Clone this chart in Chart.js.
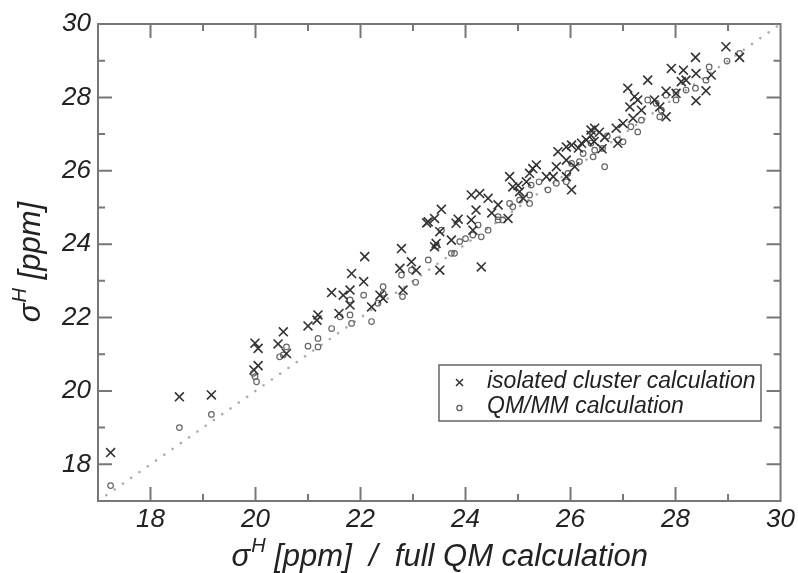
<!DOCTYPE html>
<html>
<head>
<meta charset="utf-8">
<script src="https://cdn.jsdelivr.net/npm/chart.js@4.4.1/dist/chart.umd.min.js"></script>
<style>
    body { margin: 0; background: #fff; }
    canvas { display: block; }
</style>
</head>
<body>
<canvas id="chartShielding" width="798" height="573"></canvas>
<script>
// Data (ppm)
const clusterX = [17.24, 18.55, 19.16, 19.99, 20.05, 20.05, 19.97, 20.43, 20.53, 20.59, 21.00, 21.19, 21.17, 21.45, 21.59, 21.67, 21.80, 21.83, 21.80, 22.08,
    22.06, 22.21, 22.37, 22.43, 22.78, 22.75, 22.97, 23.06, 22.81, 23.26, 23.51, 24.30, 23.41, 23.44, 23.73, 23.51, 23.29, 23.41, 23.54, 23.82,
    23.86, 24.11, 24.14, 24.20, 24.11, 24.27, 24.43, 24.62, 24.81, 24.84, 24.90, 25.03, 25.16, 25.28, 25.35, 25.22, 25.54, 25.73, 25.67, 25.92,
    26.02, 25.76, 25.92, 26.02, 26.21, 26.39, 26.30, 26.08, 25.92, 28.96, 29.22, 28.38, 27.92, 28.15, 28.39, 28.68, 27.47, 28.11, 28.20, 27.09,
    27.82, 28.01, 28.58, 28.39, 27.22, 27.28, 27.60, 27.13, 27.35, 27.70, 27.82, 27.19, 27.00, 26.87, 26.46, 26.65, 26.90, 26.39, 26.15, 26.45,
    26.55, 26.60, 25.00, 25.10, 24.50];
const clusterY = [18.32, 19.84, 19.89, 21.30, 21.16, 20.69, 20.57, 21.28, 21.61, 21.02, 21.77, 22.07, 21.93, 22.68, 22.11, 22.61, 22.75, 23.20, 22.34, 23.66,
    22.98, 22.29, 22.61, 22.52, 23.88, 23.34, 23.52, 23.29, 22.75, 24.58, 23.29, 23.38, 23.93, 24.02, 24.11, 24.34, 24.61, 24.70, 24.95, 24.57,
    24.68, 24.66, 24.38, 24.93, 25.34, 25.38, 25.25, 25.07, 24.70, 25.84, 25.56, 25.43, 25.70, 26.06, 26.16, 25.93, 25.84, 26.11, 25.84, 25.84,
    25.48, 26.52, 26.65, 26.70, 26.75, 27.11, 26.84, 26.11, 26.29, 29.38, 29.09, 29.09, 28.79, 28.74, 28.65, 28.61, 28.47, 28.43, 28.47, 28.25,
    28.17, 28.11, 28.18, 27.91, 28.02, 27.93, 27.93, 27.74, 27.65, 27.74, 27.47, 27.43, 27.29, 27.16, 27.16, 26.91, 26.75, 26.97, 26.62, 26.80,
    27.05, 26.60, 25.60, 25.25, 24.85];

const qmmmX = [17.24, 18.55, 19.16, 19.99, 20.02, 19.96, 20.46, 20.59, 20.53, 21.00, 21.19, 21.19, 21.45, 21.61, 21.80, 21.83, 21.80, 22.06, 22.21, 22.43,
    22.43, 22.33, 22.80, 22.78, 22.97, 23.05, 23.29, 23.73, 23.79, 23.89, 24.14, 24.30, 24.43, 24.24, 23.54, 24.62, 24.62, 24.71, 24.84, 24.90,
    25.03, 25.22, 25.22, 25.25, 25.57, 25.73, 25.92, 25.95, 26.24, 26.43, 26.46, 26.39, 26.17, 26.02, 28.98, 29.22, 28.64, 28.58, 28.38, 28.20,
    28.01, 27.47, 27.63, 27.73, 27.70, 27.35, 27.28, 27.15, 27.00, 26.90, 26.61, 26.65, 27.82, 28.01, 23.45, 24.00, 25.40, 26.70];
const qmmmY = [17.42, 19.00, 19.36, 20.39, 20.25, 20.48, 20.93, 21.20, 20.98, 21.22, 21.20, 21.43, 21.70, 22.02, 22.07, 21.84, 22.48, 22.61, 21.89, 22.84,
    22.66, 22.39, 22.57, 23.16, 23.29, 22.96, 23.57, 23.75, 23.75, 24.07, 24.25, 24.20, 24.38, 24.52, 24.38, 24.75, 24.66, 24.66, 25.11, 25.02,
    25.20, 25.11, 25.34, 25.61, 25.48, 25.66, 25.70, 25.93, 26.47, 26.38, 26.56, 26.75, 26.25, 26.20, 28.99, 29.20, 28.83, 28.47, 28.25, 28.20,
    27.93, 27.93, 27.84, 27.65, 27.47, 27.38, 27.06, 27.20, 26.79, 26.84, 26.61, 26.11, 28.06, 28.15, 23.95, 24.15, 25.70, 26.95];

const axisMin = 17;
const axisMax = 30;
const tickLabels = [18, 20, 22, 24, 26, 28, 30];

const seriesNames = ['isolated cluster calculation', 'QM/MM calculation'];

const FONT = 'Liberation Sans, Arial, sans-serif';
const AXIS_COLOR = '#777';

function toPoints(xs, ys) {
    return xs.map((x, i) => ({ x: x, y: ys[i] }));
}

// Frame, inward ticks on all sides, axis titles and inset legend
const framePlugin = {
    id: 'frame',
    afterDraw(chart) {
        const { ctx, chartArea: a, scales: { x, y } } = chart;
        ctx.save();
        ctx.strokeStyle = AXIS_COLOR;
        ctx.lineWidth = 2;
        ctx.strokeRect(a.left, a.top, a.right - a.left, a.bottom - a.top);

        ctx.beginPath();
        for (let v = axisMin + 1; v < axisMax; v++) {
            const len = v % 2 === 0 ? 14 : 7;
            const px = x.getPixelForValue(v);
            ctx.moveTo(px, a.bottom); ctx.lineTo(px, a.bottom - len);
            ctx.moveTo(px, a.top); ctx.lineTo(px, a.top + len);
            const py = y.getPixelForValue(v);
            ctx.moveTo(a.left, py); ctx.lineTo(a.left + len, py);
            ctx.moveTo(a.right, py); ctx.lineTo(a.right - len, py);
        }
        ctx.stroke();

        // axis titles with superscript H
        ctx.fillStyle = '#222';
        ctx.textBaseline = 'alphabetic';
        const drawSigma = (rest, cx, cy) => {
            const big = 'italic 31px ' + FONT;
            const small = 'italic 20px ' + FONT;
            ctx.font = big;
            const w1 = ctx.measureText('σ').width;
            const w3 = ctx.measureText(rest).width;
            ctx.font = small;
            const w2 = ctx.measureText('H').width;
            let sx = cx - (w1 + w2 + w3) / 2;
            ctx.font = big;
            ctx.fillText('σ', sx, cy);
            ctx.font = small;
            ctx.fillText('H', sx + w1 + 1, cy - 14);
            ctx.font = big;
            ctx.fillText(rest, sx + w1 + w2 + 1, cy);
        };
        drawSigma(' [ppm]  /  full QM calculation', (a.left + a.right) / 2, 566);

        ctx.save();
        ctx.translate(40, (a.top + a.bottom) / 2);
        ctx.rotate(-Math.PI / 2);
        drawSigma(' [ppm]', 0, 0);
        ctx.restore();

        // legend
        const lx = 439, ly = 365, lw = 322, lh = 56;
        ctx.strokeStyle = '#666';
        ctx.lineWidth = 1.5;
        ctx.fillStyle = '#fff';
        ctx.fillRect(lx, ly, lw, lh);
        ctx.strokeRect(lx, ly, lw, lh);

        ctx.strokeStyle = '#333';
        ctx.lineWidth = 1.5;
        ctx.beginPath();
        ctx.moveTo(456, 379); ctx.lineTo(463, 386);
        ctx.moveTo(463, 379); ctx.lineTo(456, 386);
        ctx.stroke();
        ctx.strokeStyle = '#555';
        ctx.lineWidth = 1.2;
        ctx.beginPath();
        ctx.arc(459.5, 408, 2.6, 0, Math.PI * 2);
        ctx.stroke();

        ctx.fillStyle = '#222';
        ctx.font = 'italic 23px ' + FONT;
        ctx.textBaseline = 'middle';
        ctx.fillText(seriesNames[0], 487, 382);
        ctx.fillText(seriesNames[1], 487, 407);
        ctx.restore();
    }
};

const tickFont = { family: FONT, style: 'italic', size: 26 };

new Chart(document.getElementById('chartShielding'), {
    type: 'scatter',
    data: {
        datasets: [
            {
                type: 'line',
                label: 'y = x',
                data: [{ x: axisMin, y: axisMin }, { x: axisMax, y: axisMax }],
                borderColor: '#aaa',
                borderWidth: 2.5,
                borderDash: [0.1, 10],
                borderCapStyle: 'round',
                pointRadius: 0,
                order: 3
            },
            {
                label: seriesNames[1],
                data: toPoints(qmmmX, qmmmY),
                pointStyle: 'circle',
                pointRadius: 2.8,
                borderColor: '#666',
                backgroundColor: 'rgba(0,0,0,0)',
                borderWidth: 1.2,
                order: 2
            },
            {
                label: seriesNames[0],
                data: toPoints(clusterX, clusterY),
                pointStyle: 'crossRot',
                pointRadius: 6.3,
                borderColor: '#333',
                borderWidth: 1.6,
                order: 1
            }
        ]
    },
    options: {
        responsive: false,
        animation: false,
        layout: { padding: { left: 0, top: 24, right: 17, bottom: 0 } },
        plugins: {
            legend: { display: false },
            tooltip: { enabled: false }
        },
        scales: {
            x: {
                type: 'linear',
                min: axisMin,
                max: axisMax,
                grid: { display: false, drawTicks: false },
                border: { display: false },
                afterBuildTicks: s => { s.ticks = tickLabels.map(v => ({ value: v })); },
                afterFit: s => { s.height = 72; },
                ticks: { font: tickFont, color: '#222', padding: 3, maxRotation: 0 }
            },
            y: {
                type: 'linear',
                min: axisMin,
                max: axisMax,
                grid: { display: false, drawTicks: false },
                border: { display: false },
                afterBuildTicks: s => { s.ticks = tickLabels.map(v => ({ value: v })); },
                afterFit: s => { s.width = 98; },
                ticks: { font: tickFont, color: '#222', padding: 7 }
            }
        }
    },
    plugins: [framePlugin]
});
</script>
</body>
</html>
